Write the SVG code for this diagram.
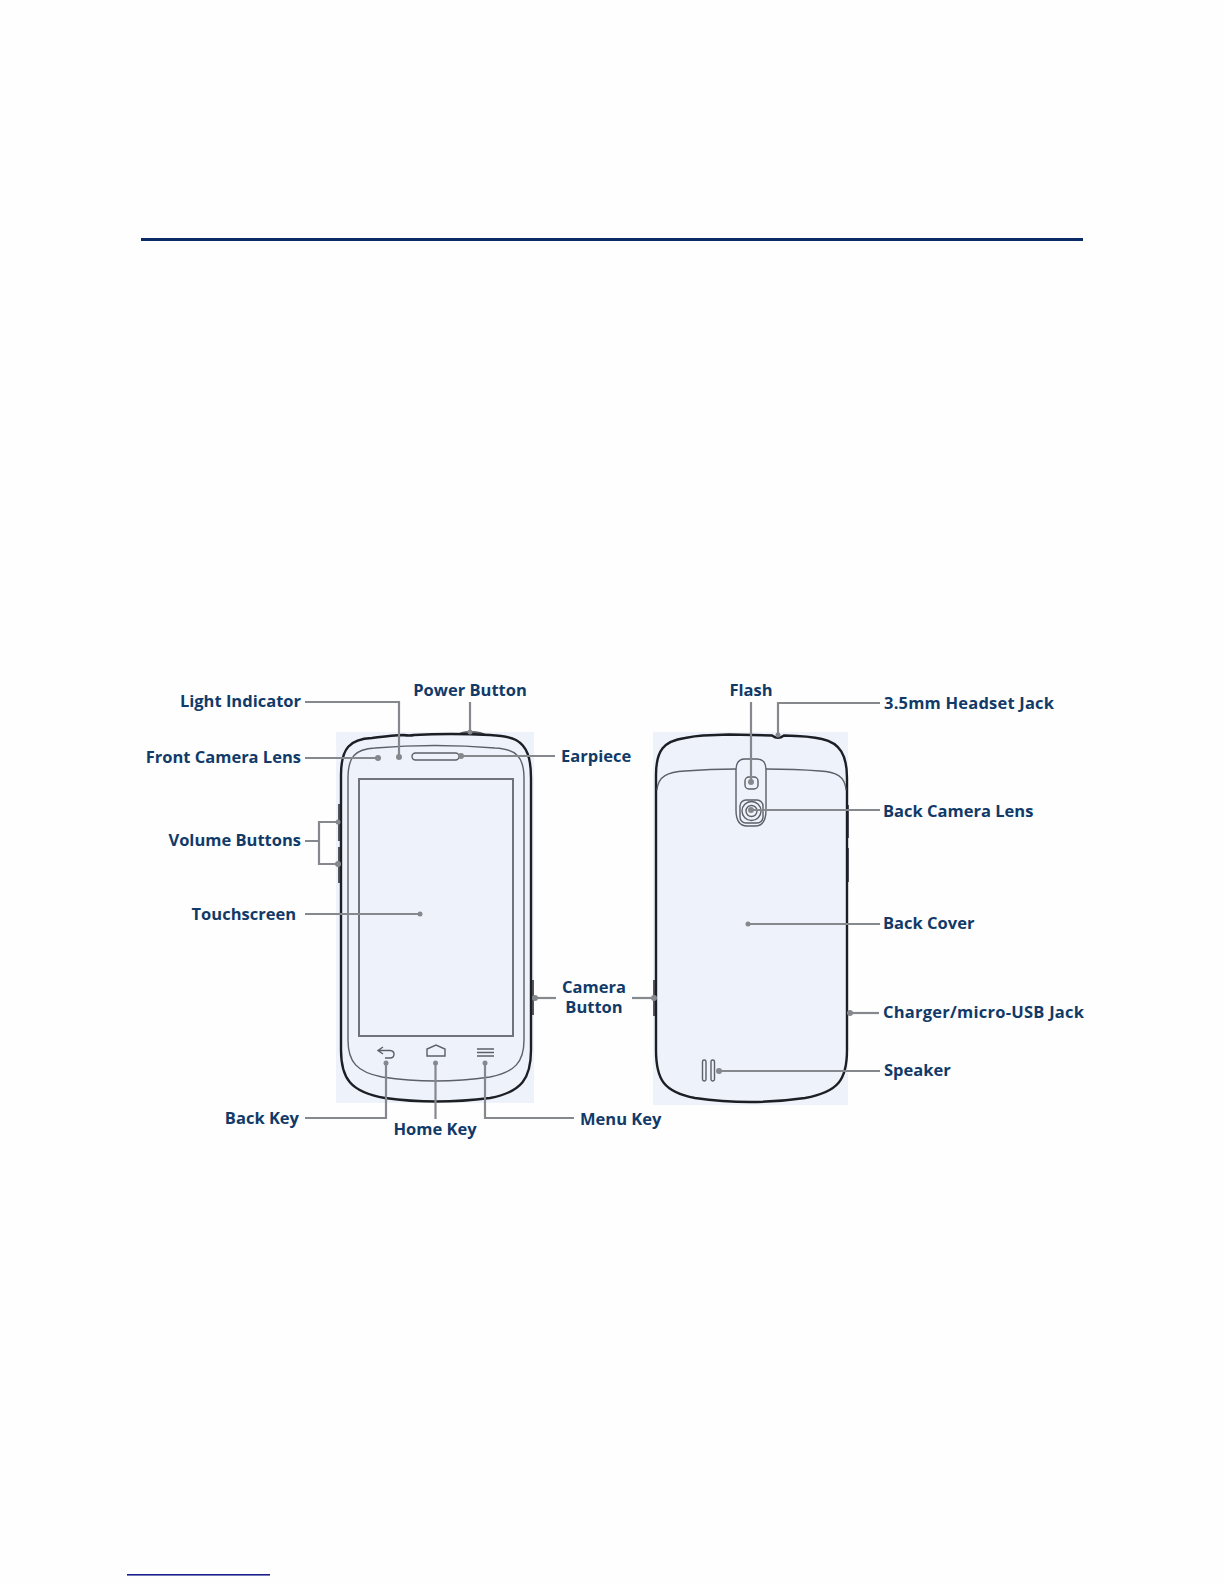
<svg xmlns="http://www.w3.org/2000/svg" width="1224" height="1584" viewBox="0 0 1224 1584">
<style>
.t{font-family:"Open Sans","Noto Sans","Liberation Sans",sans-serif;font-weight:700;font-size:16.5px;fill:#113a68}
.e{text-anchor:end}.m{text-anchor:middle}
.bg{fill:#eef2fb}
.o{fill:none;stroke:#1c1f24;stroke-width:2.4}
.i{fill:none;stroke:#5c6068;stroke-width:1.4}
.s{fill:none;stroke:#70747a;stroke-width:2}
.b{fill:#55585e}
.l{fill:none;stroke:#85888c;stroke-width:2.2}
.d{fill:#85888c}
</style>
<rect width="1224" height="1584" fill="#fefefe"/>
<rect id="header-rule" x="141" y="238" width="942" height="3" fill="#0b2b66"/>
<rect id="footnote-rule" x="127" y="1574" width="143" height="1.6" fill="#1a1f8c"/>

<g id="phone-front">
<rect class="bg" x="336" y="732" width="198" height="371"/>
<rect class="b" x="338" y="804" width="3" height="37"/><rect class="b" x="338" y="847" width="3" height="36"/>
<rect class="b" x="531" y="980" width="3" height="35"/>
<path class="b" d="M457 735Q460 731 470 731Q482 731 487 735Z"/>
<path class="o" d="M341 775C341 748 350 739 372 738Q395 735 403 735Q410 736 414 735Q450 733 490 735Q508 736 516 740C527 746 531 758 531 778L531 1050C531 1078 522 1092 490 1098Q435 1105 385 1098C350 1092 341 1078 341 1050Z"/>
<path class="i" d="M348 778C348 757 355 749 375 748Q435 743 495 748C516 749 524 757 524 778L524 1040C524 1062 515 1072 490 1077Q435 1085 382 1077C357 1072 348 1062 348 1040Z"/>
<rect class="s" x="359" y="779" width="154" height="257"/>
<rect class="i" x="412" y="753" width="47" height="7" rx="3.5"/>
<path class="i" d="M383 1047L378 1050.5L383 1054M378 1050.5H390Q394 1051 394 1054Q394 1058 390 1058H385"/>
<path class="i" d="M427 1056V1049L436 1045L445 1049V1056Z"/>
<path class="i" d="M477 1049H494M477 1052.500H494M477 1056H494"/>
</g>

<g id="phone-back">
<rect class="bg" x="653" y="732" width="195" height="373"/>
<rect class="b" x="653" y="980" width="3" height="36"/>
<rect class="b" x="847" y="805" width="2" height="33"/><rect class="b" x="847" y="848" width="2" height="34"/>
<path class="o" d="M656 775C656 750 664 741 685 738Q695 736 703 735.500L729 734.500Q750 735 772 735.500Q778 740 784 735.500Q810 736 822 739C840 743 847 755 847 778L847 1050C847 1080 838 1092 805 1098Q750 1106 695 1098C664 1092 656 1080 656 1050Z"/>
<path class="i" d="M657 790C658 776 668 772 685 771Q710 769 736 769M766 769Q795 769 820 771C836 772 845 776 846 790"/>
<path class="i" d="M736 770Q736 759 745 759H757Q766 759 766 770V810Q766 826 755 826H747Q736 826 736 810Z"/>
<rect class="i" x="745" y="777" width="13" height="12" rx="4"/>
<rect class="i" x="740" y="800" width="23" height="23" rx="6"/>
<circle class="i" cx="751.500" cy="811" r="9.500"/>
<circle class="i" cx="751.500" cy="811" r="5.500"/>
<rect class="i" x="702.500" y="1060" width="3.500" height="21" rx="1.700"/>
<rect class="i" x="711" y="1060" width="3.500" height="21" rx="1.700"/>
</g>

<g id="connectors">
<path class="l" d="M305 702H399V755"/><circle class="d" cx="399" cy="757" r="3"/>
<path class="l" d="M305 758H378"/><circle class="d" cx="378" cy="758" r="3"/>
<path class="l" d="M305 841H319M338 822H319V864H338"/><circle class="d" cx="338" cy="822" r="2.500"/><circle class="d" cx="338" cy="864" r="3"/>
<path class="l" d="M305 914H420"/><circle class="d" cx="420" cy="914" r="2.500"/>
<path class="l" d="M470 702V732"/><circle class="d" cx="470" cy="732" r="2.500"/>
<path class="l" d="M461 756H555"/><circle class="d" cx="461" cy="756" r="3"/>
<path class="l" d="M535 998H556"/><circle class="d" cx="535" cy="998" r="3"/>
<path class="l" d="M632 998H654"/><circle class="d" cx="654" cy="998" r="3"/>
<path class="l" d="M386 1063V1118H305"/><circle class="d" cx="386" cy="1063" r="2.500"/>
<path class="l" d="M435.500 1063V1119"/><circle class="d" cx="435.500" cy="1063" r="2.500"/>
<path class="l" d="M485 1063V1118H574"/><circle class="d" cx="485" cy="1063" r="2.500"/>
<path class="l" d="M751 702V782"/><circle class="d" cx="751" cy="782" r="3"/>
<path class="l" d="M778 735V703H880"/><circle class="d" cx="778" cy="735" r="2.500"/>
<path class="l" d="M751 810H880"/><circle class="d" cx="751" cy="810" r="3"/>
<path class="l" d="M748 924H880"/><circle class="d" cx="748" cy="924" r="2.500"/>
<path class="l" d="M849 1013H879"/><circle class="d" cx="850" cy="1013" r="3"/>
<path class="l" d="M719 1071H880"/><circle class="d" cx="719" cy="1071" r="3"/>
</g>

<g id="labels">
<text class="t e" x="301" y="707">Light Indicator</text>
<text class="t e" x="301" y="763">Front Camera Lens</text>
<text class="t e" x="301" y="846">Volume Buttons</text>
<text class="t e" x="296" y="920">Touchscreen</text>
<text class="t m" x="470" y="696">Power Button</text>
<text class="t" x="561" y="762">Earpiece</text>
<text class="t m" x="594" y="993">Camera</text>
<text class="t m" x="594" y="1013">Button</text>
<text class="t e" x="299" y="1124">Back Key</text>
<text class="t m" x="435" y="1135">Home Key</text>
<text class="t" x="580" y="1125">Menu Key</text>
<text class="t m" x="751" y="696">Flash</text>
<text class="t" x="884" y="709" textLength="170" lengthAdjust="spacing">3.5mm Headset Jack</text>
<text class="t" x="883" y="817">Back Camera Lens</text>
<text class="t" x="883" y="929">Back Cover</text>
<text class="t" x="883" y="1018" textLength="201" lengthAdjust="spacing">Charger/micro-USB Jack</text>
<text class="t" x="884" y="1076">Speaker</text>
</g>
</svg>
